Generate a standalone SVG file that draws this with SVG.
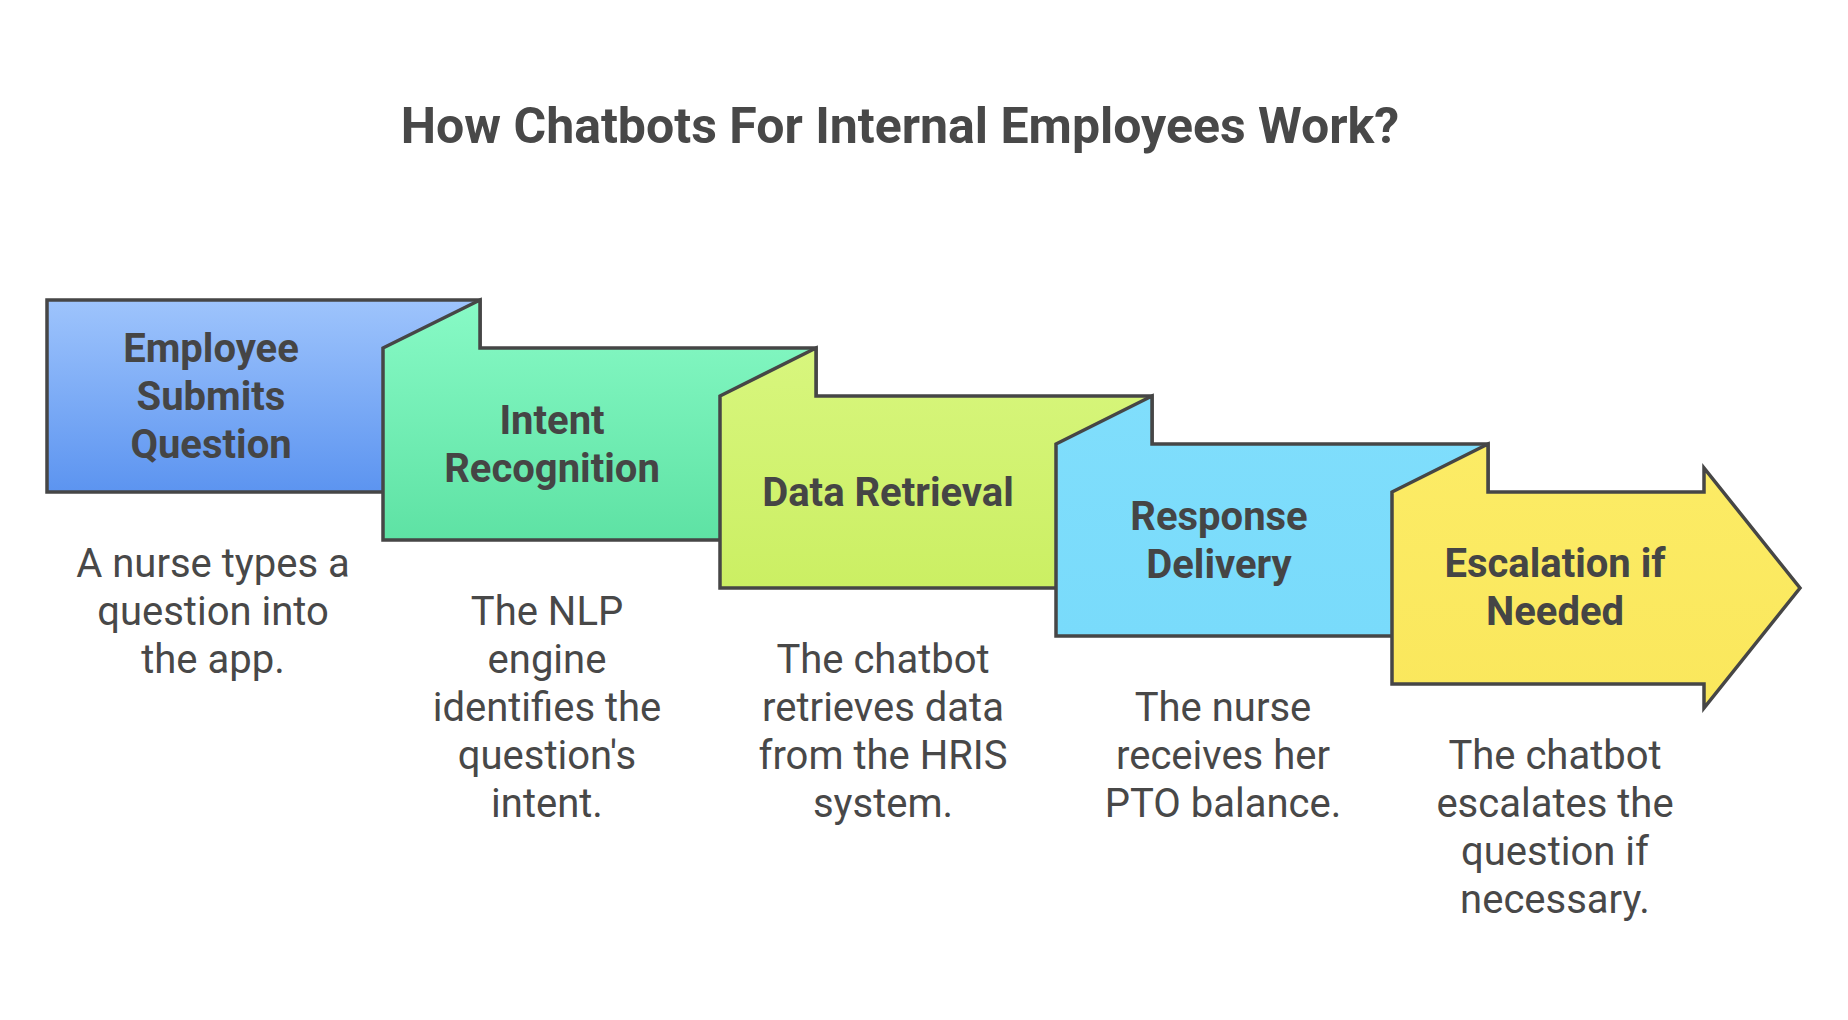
<svg xmlns="http://www.w3.org/2000/svg" width="1848" height="1020" viewBox="0 0 1848 1020">
<defs>
<linearGradient id="g1" x1="0" y1="0" x2="0" y2="1"><stop offset="0" stop-color="#9EC4FC"/><stop offset="1" stop-color="#5C94F0"/></linearGradient>
<linearGradient id="g2" x1="0" y1="0" x2="0" y2="1"><stop offset="0" stop-color="#88FAC6"/><stop offset="1" stop-color="#5EE2A4"/></linearGradient>
<linearGradient id="g3" x1="0" y1="0" x2="0" y2="1"><stop offset="0" stop-color="#D8F67E"/><stop offset="1" stop-color="#CBEF63"/></linearGradient>
<linearGradient id="g4" x1="0" y1="0" x2="0" y2="1"><stop offset="0" stop-color="#80DEFC"/><stop offset="1" stop-color="#79DBFB"/></linearGradient>
<linearGradient id="g5" x1="0" y1="0" x2="0" y2="1"><stop offset="0" stop-color="#FCEC66"/><stop offset="1" stop-color="#FAE75C"/></linearGradient>
</defs>
<style>
.box{stroke:#464646;stroke-width:3.5;stroke-linejoin:miter}
.title{font-family:Roboto,"Liberation Sans",sans-serif;font-weight:700;font-size:50px;fill:#484848;text-anchor:middle}
.lbl{font-family:Roboto,"Liberation Sans",sans-serif;font-weight:700;font-size:40px;fill:#454545;text-anchor:middle}
.desc{font-family:Roboto,"Liberation Sans",sans-serif;font-weight:400;font-size:40px;fill:#484848;text-anchor:middle}
</style>
<rect width="1848" height="1020" fill="#FFFFFF"/>
<text class="title" x="900" y="143">How Chatbots For Internal Employees Work?</text>
<g id="connectors"></g>
<g id="node1">
<rect class="box" x="47" y="300" width="433" height="192" fill="url(#g1)"/>
<text class="lbl" x="211" y="362">Employee</text>
<text class="lbl" x="211" y="410">Submits</text>
<text class="lbl" x="211" y="458">Question</text>
<text class="desc" x="213" y="577">A nurse types a</text>
<text class="desc" x="213" y="625">question into</text>
<text class="desc" x="213" y="673">the app.</text>
</g>
<g id="node2">
<path class="box" d="M383,348 L480,300 L480,348 L816,348 L816,540 L383,540 Z" fill="url(#g2)"/>
<text class="lbl" x="552" y="434">Intent</text>
<text class="lbl" x="552" y="482">Recognition</text>
<text class="desc" x="547" y="625">The NLP</text>
<text class="desc" x="547" y="673">engine</text>
<text class="desc" x="547" y="721">identifies the</text>
<text class="desc" x="547" y="769">question's</text>
<text class="desc" x="547" y="817">intent.</text>
</g>
<g id="node3">
<path class="box" d="M720,396 L816,348 L816,396 L1152,396 L1152,588 L720,588 Z" fill="url(#g3)"/>
<text class="lbl" x="888" y="506">Data Retrieval</text>
<text class="desc" x="883" y="673">The chatbot</text>
<text class="desc" x="883" y="721">retrieves data</text>
<text class="desc" x="883" y="769">from the HRIS</text>
<text class="desc" x="883" y="817">system.</text>
</g>
<g id="node4">
<path class="box" d="M1056,444 L1152,396 L1152,444 L1488,444 L1488,636 L1056,636 Z" fill="url(#g4)"/>
<text class="lbl" x="1219" y="530">Response</text>
<text class="lbl" x="1219" y="578">Delivery</text>
<text class="desc" x="1223" y="721">The nurse</text>
<text class="desc" x="1223" y="769">receives her</text>
<text class="desc" x="1223" y="817">PTO balance.</text>
</g>
<g id="node5">
<path class="box" d="M1392,492 L1488,444 L1488,492 L1704,492 L1704,468 L1800,588 L1704,708 L1704,684 L1392,684 Z" fill="url(#g5)"/>
<text class="lbl" x="1555" y="577">Escalation if</text>
<text class="lbl" x="1555" y="625">Needed</text>
<text class="desc" x="1555" y="769">The chatbot</text>
<text class="desc" x="1555" y="817">escalates the</text>
<text class="desc" x="1555" y="865">question if</text>
<text class="desc" x="1555" y="913">necessary.</text>
</g>
</svg>
